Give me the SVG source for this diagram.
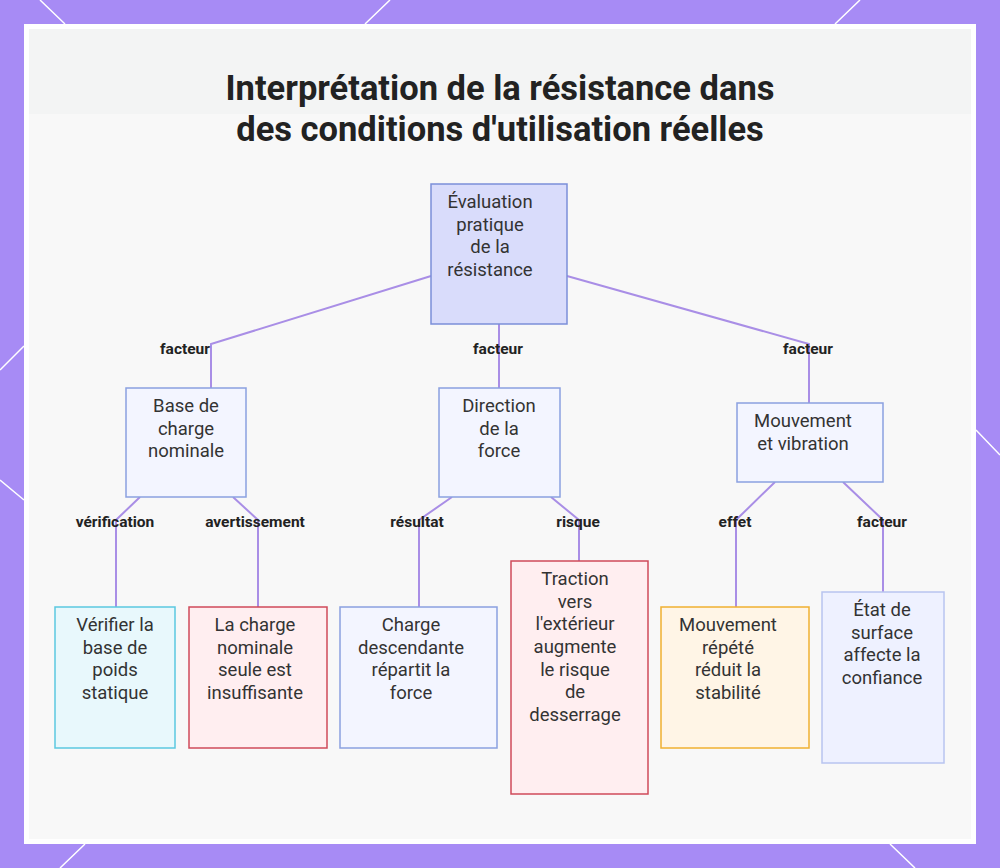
<svg xmlns="http://www.w3.org/2000/svg" width="1000" height="868" viewBox="0 0 1000 868">
<style>
.n{font-family:Roboto,"Liberation Sans",sans-serif;font-size:18.5px;fill:#333;text-anchor:middle}
.l{font-family:Roboto,"Liberation Sans",sans-serif;font-size:15.5px;font-weight:bold;fill:#222;text-anchor:middle}
.t{font-family:Roboto,"Liberation Sans",sans-serif;font-size:34.5px;font-weight:bold;fill:#222;text-anchor:middle}
.c{fill:none;stroke:#a98ee6;stroke-width:2}
.blue{fill:#f3f5ff;stroke:#8aa0e0;stroke-width:1.5}
.red{fill:#ffeef0;stroke:#cf4a5a;stroke-width:1.5}
</style>
<rect width="1000" height="868" fill="#a78bf5"/>
<g stroke="#fff" stroke-width="1.5" fill="none">
<path d="M40 0L65 24M390 0L365 24M860 0L835 24M0 370L24 346M0 480L24 500M976 430L1000 455M60 868L85 844M915 868L890 844"/>
</g>
<rect x="24" y="24" width="952" height="820" fill="#fff"/>
<rect x="29" y="29" width="942" height="810" fill="#f8f8f8"/>
<rect x="29" y="29" width="942" height="85" fill="#f3f4f4"/>
<text class="t" x="500" y="100">Interprétation de la résistance dans</text>
<text class="t" x="500" y="141">des conditions d'utilisation réelles</text>
<g id="connectors">
<path class="c" d="M431 276L211 344V388"/>
<path class="c" d="M499 324V388"/>
<path class="c" d="M567 276L809 344V403"/>
<path class="c" d="M140 497L116 520V607"/>
<path class="c" d="M233 497L258 520V607"/>
<path class="c" d="M452 497L419 520V607"/>
<path class="c" d="M551 497L579 520V561"/>
<path class="c" d="M775 482L736 520V607"/>
<path class="c" d="M843 482L883 520V592"/>
<g>
<text class="l" x="185" y="354">facteur</text>
<text class="l" x="498" y="354">facteur</text>
<text class="l" x="808" y="354">facteur</text>
<text class="l" x="115" y="527">vérification</text>
<text class="l" x="255" y="527">avertissement</text>
<text class="l" x="417" y="527">résultat</text>
<text class="l" x="578" y="527">risque</text>
<text class="l" x="735" y="527">effet</text>
<text class="l" x="882" y="527">facteur</text>
</g>
</g>
<g id="root"><rect x="431" y="184" width="136" height="140" fill="#d9dcfb" stroke="#7b8fd9" stroke-width="1.5"/>
<text class="n" x="490" y="208">Évaluation</text><text class="n" x="490" y="231">pratique</text><text class="n" x="490" y="253">de la</text><text class="n" x="490" y="276">résistance</text></g>
<g id="base"><rect class="blue" x="126" y="388" width="120" height="109"/>
<text class="n" x="186" y="412">Base de</text><text class="n" x="186" y="435">charge</text><text class="n" x="186" y="457">nominale</text></g>
<g id="direction"><rect class="blue" x="439" y="388" width="121" height="109"/>
<text class="n" x="499" y="412">Direction</text><text class="n" x="499" y="435">de la</text><text class="n" x="499" y="457">force</text></g>
<g id="mouvement"><rect class="blue" x="737" y="403" width="146" height="79"/>
<text class="n" x="803" y="427">Mouvement</text><text class="n" x="803" y="450">et vibration</text></g>
<g id="verifier"><rect x="55" y="607" width="120" height="141" fill="#e8f8fc" stroke="#5bc8e0" stroke-width="1.5"/>
<text class="n" x="115" y="631">Vérifier la</text><text class="n" x="115" y="654">base de</text><text class="n" x="115" y="676">poids</text><text class="n" x="115" y="699">statique</text></g>
<g id="nominale"><rect class="red" x="189" y="607" width="138" height="141"/>
<text class="n" x="255" y="631">La charge</text><text class="n" x="255" y="654">nominale</text><text class="n" x="255" y="676">seule est</text><text class="n" x="255" y="699">insuffisante</text></g>
<g id="descendante"><rect class="blue" x="340" y="607" width="157" height="141"/>
<text class="n" x="411" y="631">Charge</text><text class="n" x="411" y="654">descendante</text><text class="n" x="411" y="676">répartit la</text><text class="n" x="411" y="699">force</text></g>
<g id="traction"><rect class="red" x="511" y="561" width="137" height="233"/>
<text class="n" x="575" y="585">Traction</text><text class="n" x="575" y="608">vers</text><text class="n" x="575" y="630">l'extérieur</text><text class="n" x="575" y="653">augmente</text><text class="n" x="575" y="676">le risque</text><text class="n" x="575" y="698">de</text><text class="n" x="575" y="721">desserrage</text></g>
<g id="repete"><rect x="661" y="607" width="148" height="141" fill="#fff5e6" stroke="#f0b030" stroke-width="1.5"/>
<text class="n" x="728" y="631">Mouvement</text><text class="n" x="728" y="654">répété</text><text class="n" x="728" y="676">réduit la</text><text class="n" x="728" y="699">stabilité</text></g>
<g id="surface"><rect x="822" y="592" width="122" height="171" fill="#eef1ff" stroke="#b8c4f0" stroke-width="1.5"/>
<text class="n" x="882" y="616">État de</text><text class="n" x="882" y="639">surface</text><text class="n" x="882" y="661">affecte la</text><text class="n" x="882" y="684">confiance</text></g>
</svg>
